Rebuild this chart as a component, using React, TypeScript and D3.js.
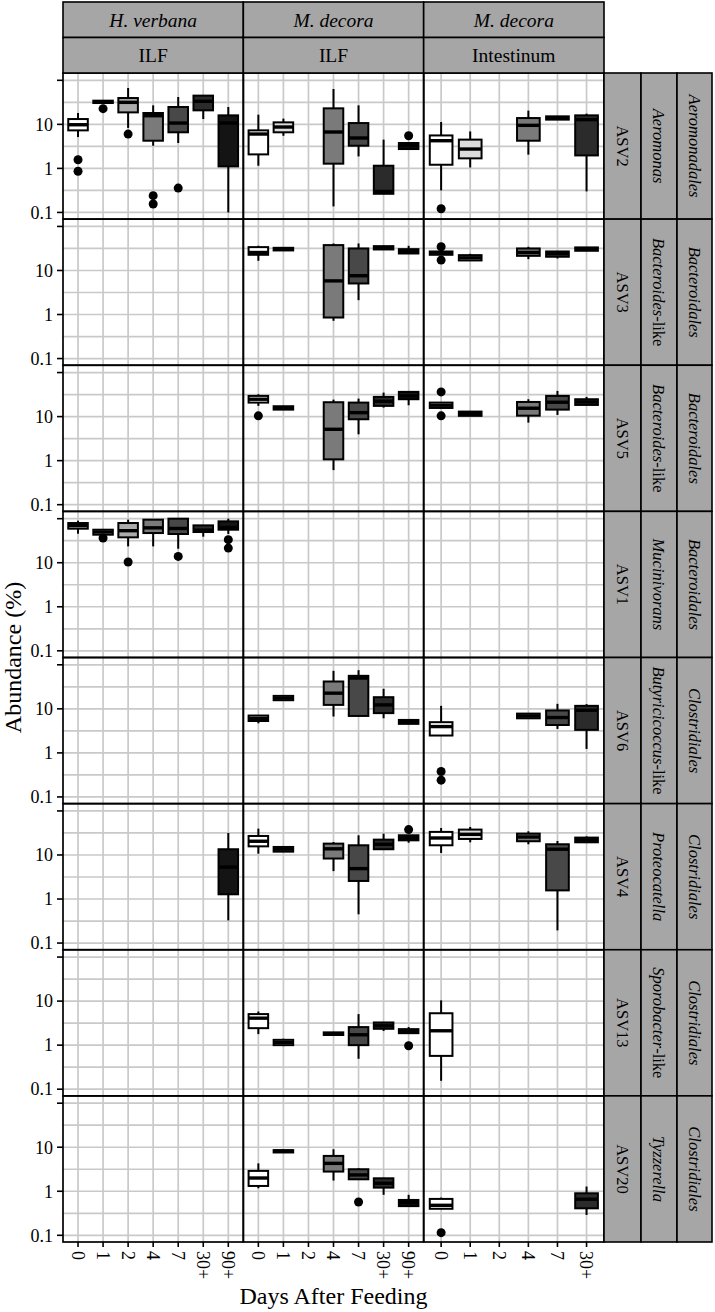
import React from "react";
import * as d3 from "d3";

// facets
const hosts = ["H. verbana", "M. decora", "M. decora"];
const tissues = ["ILF", "ILF", "Intestinum"];
const dayLevels = [
  ["0", "1", "2", "4", "7", "30+", "90+"],
  ["0", "1", "2", "4", "7", "30+", "90+"],
  ["0", "1", "2", "4", "7", "30+"],
];
const asvLabels = ["ASV2", "ASV3", "ASV5", "ASV1", "ASV6", "ASV4", "ASV13", "ASV20"];
// [italic part, plain part]
const genusLabels = [
  ["Aeromonas", ""],
  ["Bacteroides", "-like"],
  ["Bacteroides", "-like"],
  ["Mucinivorans", ""],
  ["Butyricicoccus", "-like"],
  ["Proteocatella", ""],
  ["Sporobacter", "-like"],
  ["Tyzzerella", ""],
];
const orderLabels = [
  "Aeromonadales", "Bacteroidales", "Bacteroidales", "Bacteroidales",
  "Clostridiales", "Clostridiales", "Clostridiales", "Clostridiales",
];
const dayFills: Record<string, string> = {
  "0": "#ffffff", "1": "#dcdcdc", "2": "#ababab", "4": "#7a7a7a",
  "7": "#484848", "30+": "#2b2b2b", "90+": "#141414",
};

const yTicks = [0.1, 1, 10, 100];
const yTickLabels = ["0.1", "1", "10", ""];
const yMinor = [10 ** -0.5, 10 ** 0.5, 10 ** 1.5];

// box stats: [column, day, lower whisker, q1, median, q3, upper whisker, outliers]
type Box = [number, string, number, number, number, number, number, number[]?];

const asv2: Box[] = [
  [0, "0", 5.15, 7.3, 9.8, 13.2, 18.1, [1.57, 0.86]],
  [0, "1", 30.5, 30.5, 32.2, 34.5, 34.5, [22.7]],
  [0, "2", 8.3, 18.7, 31.6, 39.6, 67, [6.0]],
  [0, "4", 3.27, 4.25, 15.7, 18.1, 27, [0.24, 0.155]],
  [0, "7", 3.77, 6.6, 10.7, 24.8, 41.8, [0.357]],
  [0, "30+", 13.2, 20.8, 33.4, 44.9, 44.9],
  [0, "90+", 0.1, 1.11, 10.7, 16, 24.8],
  [1, "0", 1.15, 2.08, 6.03, 7.3, 16.6],
  [1, "1", 5.5, 6.6, 8.7, 11.1, 13.5],
  [1, "4", 0.137, 1.28, 6.7, 23.1, 63.5],
  [1, "7", 1.87, 3.27, 4.9, 10.7, 27],
  [1, "30+", 0.265, 0.265, 0.3, 1.15, 4.5],
  [1, "90+", 2.75, 2.75, 3.27, 3.77, 3.77, [5.5]],
  [2, "0", 0.316, 1.21, 4.25, 5.6, 11.3, [0.121]],
  [2, "1", 1.05, 1.69, 2.75, 4.5, 6.9],
  [2, "4", 2.05, 4.25, 9.5, 13.9, 20.5],
  [2, "7", 12.8, 12.8, 13.9, 15.2, 15.2],
  [2, "30+", 0.3, 1.97, 12.8, 16, 17.5],
];

const asv3: Box[] = [
  [1, "0", 16.6, 22.7, 25.6, 33.9, 36.4],
  [1, "1", 28.5, 28.5, 30.5, 32.7, 32.7],
  [1, "4", 0.72, 0.855, 5.8, 37.7, 41],
  [1, "7", 2.12, 5.07, 7.6, 31.6, 41],
  [1, "30+", 30, 30, 32.7, 35.7, 35.7],
  [1, "90+", 24.3, 24.3, 27, 30.5, 36.3],
  [2, "0", 22.7, 22.7, 24.8, 27, 27, [34.5, 17.2]],
  [2, "1", 16.9, 16.9, 19.4, 22.3, 23.9],
  [2, "4", 18.1, 21.5, 25.6, 31.6, 34.5],
  [2, "7", 18.7, 20.5, 23.9, 27, 27],
  [2, "30+", 28, 28, 30.5, 33.4, 33.4],
];

const asv5: Box[] = [
  [1, "0", 17.5, 20.8, 24.8, 29.5, 32.2, [10.4]],
  [1, "1", 14.4, 14.4, 15.7, 17.2, 17.2],
  [1, "4", 0.61, 1.07, 5.15, 21.2, 24.3],
  [1, "7", 3.96, 8.7, 12.3, 20.8, 25.6],
  [1, "30+", 16, 17.5, 22.3, 28, 35.1],
  [1, "90+", 18.1, 24.8, 29.5, 36.4, 36.4],
  [2, "0", 15.7, 15.7, 18.1, 20.8, 20.8, [36.4, 10.4]],
  [2, "1", 10.4, 10.4, 11.7, 13, 13],
  [2, "4", 7.3, 10.5, 15.5, 21.5, 24.8],
  [2, "7", 10.9, 14.4, 21.2, 29.5, 38.3],
  [2, "30+", 18.4, 18.4, 21.5, 24.8, 28],
];

const asv1: Box[] = [
  [0, "0", 45.6, 59.3, 69.3, 79.7, 90],
  [0, "1", 43.3, 43.3, 49.8, 56.2, 56.2, [36.4]],
  [0, "2", 23.5, 37.7, 53.4, 79.7, 95, [10.4]],
  [0, "4", 23.5, 47.2, 62, 95, 95],
  [0, "7", 20.8, 44.9, 60, 100, 100, [13.9]],
  [0, "30+", 39, 49.8, 55, 70.5, 70.5],
  [0, "90+", 45, 56.2, 63, 87, 100, [33.4, 21.5]],
];

const asv6: Box[] = [
  [1, "0", 4.7, 5.3, 6.1, 7.05, 7.05],
  [1, "1", 15.7, 15.7, 17.5, 19.7, 19.7],
  [1, "4", 6.7, 12.3, 22.7, 41.8, 73],
  [1, "7", 6.9, 6.9, 50, 56.2, 75.6],
  [1, "30+", 6.1, 8, 12.3, 18.4, 28.5],
  [1, "90+", 4.56, 4.56, 5.15, 5.6, 5.6],
  [2, "0", 2.48, 2.48, 3.96, 4.98, 11.7, [0.377, 0.24]],
  [2, "4", 6.1, 6.1, 6.9, 7.8, 7.8],
  [2, "7", 3.5, 4.3, 6.35, 9.2, 13],
  [2, "30+", 1.23, 3.33, 9.3, 11.7, 12.8],
];

const asv4: Box[] = [
  [0, "90+", 0.327, 1.28, 5.3, 13.5, 31.6],
  [1, "0", 10.7, 15.7, 20.5, 27, 39.6],
  [1, "1", 11.9, 11.9, 13.5, 15.2, 15.2],
  [1, "4", 4.3, 8.3, 13.8, 18.1, 19.7],
  [1, "7", 0.45, 2.57, 4.9, 16.6, 28],
  [1, "30+", 13.5, 13.5, 17.5, 22.3, 30.5],
  [1, "90+", 19, 21.5, 24.3, 28, 28, [37.7]],
  [2, "0", 11.1, 16.6, 24.3, 33.4, 41],
  [2, "1", 19.4, 23.1, 29.5, 37.7, 43.3],
  [2, "4", 17.5, 20.5, 25.6, 30.5, 34.5],
  [2, "7", 0.194, 1.57, 13.5, 17.5, 20.8],
  [2, "30+", 19.4, 19.4, 21.9, 24.8, 26.5],
];

const asv13: Box[] = [
  [1, "0", 1.78, 2.43, 4.1, 5.07, 5.8],
  [1, "1", 0.95, 1.0, 1.15, 1.32, 1.4],
  [1, "4", 1.7, 1.7, 1.81, 1.95, 1.95],
  [1, "7", 0.49, 1.0, 1.72, 2.57, 5.07],
  [1, "30+", 2.1, 2.35, 2.75, 3.27, 3.27],
  [1, "90+", 1.87, 1.87, 2.08, 2.31, 2.57, [0.97]],
  [2, "0", 0.155, 0.57, 2.12, 5.3, 10.4],
];

const asv20: Box[] = [
  [1, "0", 1.17, 1.32, 2.0, 2.9, 4.3],
  [1, "1", 7.6, 7.6, 8.1, 8.6, 8.6],
  [1, "4", 1.75, 2.8, 4.3, 6.35, 9],
  [1, "7", 1.87, 1.87, 2.35, 3.16, 3.33, [0.57]],
  [1, "30+", 0.83, 1.21, 1.52, 1.97, 1.97],
  [1, "90+", 0.46, 0.46, 0.55, 0.635, 0.83],
  [2, "0", 0.4, 0.4, 0.48, 0.67, 0.72, [0.115]],
  [2, "30+", 0.29, 0.41, 0.66, 0.9, 1.28],
];

const boxesByRow = [asv2, asv3, asv5, asv1, asv6, asv4, asv13, asv20];

const W = 715;
const H = 1312;
const left = 63;
const right = 604;
const top = 73;
const bottom = 1242;
const colW = (right - left) / 3;
const rowH = (bottom - top) / 8;
const font = "'Liberation Serif', 'Times New Roman', serif";

export default function App() {
  const xScales = dayLevels.map((lv, c) =>
    d3.scalePoint<string>().domain(lv).range([left + c * colW, left + (c + 1) * colW]).padding(0.6)
  );
  const yScales = asvLabels.map((_, r) =>
    d3.scaleLog().domain([10 ** -1.152, 10 ** 2.166]).range([top + (r + 1) * rowH, top + r * rowH])
  );

  return (
    <div style={{ position: "absolute", left: 0, top: 0 }}>
      <svg width={W} height={H} style={{ display: "block", background: "white" }} fontFamily={font}>
        {/* panels: grid */}
        {asvLabels.map((_, r) =>
          dayLevels.map((lv, c) => {
            const x = xScales[c];
            const y = yScales[r];
            const x0 = left + c * colW;
            return (
              <g key={`g${r}-${c}`} stroke="#c9c9c9" strokeWidth={1.7}>
                {yTicks.concat(yMinor).map((t) => (
                  <line key={t} x1={x0} x2={x0 + colW} y1={y(t)} y2={y(t)} />
                ))}
                {lv.map((d) => (
                  <line key={d} x1={x(d)} x2={x(d)} y1={top + r * rowH} y2={top + (r + 1) * rowH} />
                ))}
              </g>
            );
          })
        )}

        {/* boxes */}
        {boxesByRow.map((boxes, r) =>
          boxes.map(([c, day, lo, q1, med, q3, hi, out], i) => {
            const x = xScales[c];
            const y = yScales[r];
            const cx = x(day) as number;
            const bw = x.step() * 0.78;
            return (
              <g key={`b${r}-${i}`} stroke="#000">
                <line x1={cx} x2={cx} y1={y(hi)} y2={y(q3)} strokeWidth={2} />
                <line x1={cx} x2={cx} y1={y(q1)} y2={y(lo)} strokeWidth={2} />
                <rect
                  x={cx - bw / 2}
                  width={bw}
                  y={y(q3)}
                  height={Math.max(0, y(q1) - y(q3))}
                  fill={dayFills[day]}
                  strokeWidth={2}
                />
                <line x1={cx - bw / 2} x2={cx + bw / 2} y1={y(med)} y2={y(med)} strokeWidth={3.4} />
                {(out || []).map((o, k) => (
                  <circle key={k} cx={cx} cy={y(o)} r={4.5} fill="#000" stroke="none" />
                ))}
              </g>
            );
          })
        )}

        {/* panel borders */}
        {asvLabels.map((_, r) =>
          dayLevels.map((_lv, c) => (
            <rect
              key={`p${r}-${c}`}
              x={left + c * colW}
              y={top + r * rowH}
              width={colW}
              height={rowH}
              fill="none"
              stroke="#000"
              strokeWidth={1.7}
            />
          ))
        )}

        {/* y axis */}
        {yScales.map((y, r) => (
          <g key={`y${r}`}>
            {yTicks.map((t, k) => (
              <g key={t}>
                <line x1={57} x2={left} y1={y(t)} y2={y(t)} stroke="#000" strokeWidth={1.6} />
                <text x={53} y={y(t)} dy="0.35em" textAnchor="end" fontSize={18} fill="#000">
                  {yTickLabels[k]}
                </text>
              </g>
            ))}
          </g>
        ))}

        {/* x axis */}
        {xScales.map((x, c) =>
          x.domain().map((d) => (
            <g key={`x${c}-${d}`}>
              <line x1={x(d)} x2={x(d)} y1={bottom} y2={bottom + 5} stroke="#000" strokeWidth={1.6} />
              <text
                transform={`translate(${x(d)},${bottom + 9}) rotate(90)`}
                dy="0.35em"
                textAnchor="start"
                fontSize={18}
                fill="#000"
              >
                {d}
              </text>
            </g>
          ))
        )}

        {/* top strips */}
        {hosts.map((h, c) => (
          <g key={`s${c}`}>
            <rect x={left + c * colW} y={2} width={colW} height={35.5} fill="#a6a6a6" stroke="#000" strokeWidth={1.6} />
            <text x={left + (c + 0.5) * colW} y={19.75} dy="0.35em" textAnchor="middle" fontSize={19.5} fontStyle="italic">
              {h}
            </text>
            <rect x={left + c * colW} y={37.5} width={colW} height={35.5} fill="#a6a6a6" stroke="#000" strokeWidth={1.6} />
            <text x={left + (c + 0.5) * colW} y={55.25} dy="0.35em" textAnchor="middle" fontSize={19.5}>
              {tissues[c]}
            </text>
          </g>
        ))}

        {/* right strips */}
        {asvLabels.map((a, r) => {
          const y0 = top + r * rowH;
          const cy = y0 + rowH / 2;
          const cols = [
            [604, 641],
            [641, 677],
            [677, 712],
          ];
          return (
            <g key={`r${r}`}>
              {cols.map(([a0, a1], k) => (
                <rect key={k} x={a0} y={y0} width={a1 - a0} height={rowH} fill="#a6a6a6" stroke="#000" strokeWidth={1.6} />
              ))}
              <text transform={`translate(${(604 + 641) / 2},${cy}) rotate(90)`} dy="0.35em" textAnchor="middle" fontSize={16.5}>
                {a}
              </text>
              <text transform={`translate(${(641 + 677) / 2},${cy}) rotate(90)`} dy="0.35em" textAnchor="middle" fontSize={16.5}>
                <tspan fontStyle="italic">{genusLabels[r][0]}</tspan>
                {genusLabels[r][1] && <tspan>{genusLabels[r][1]}</tspan>}
              </text>
              <text transform={`translate(${(677 + 712) / 2},${cy}) rotate(90)`} dy="0.35em" textAnchor="middle" fontSize={16.5} fontStyle="italic">
                {orderLabels[r]}
              </text>
            </g>
          );
        })}

        {/* titles */}
        <text x={(left + right) / 2} y={1304} textAnchor="middle" fontSize={24}>
          Days After Feeding
        </text>
        <text transform={`translate(21,${(top + bottom) / 2}) rotate(-90)`} textAnchor="middle" fontSize={24}>
          Abundance (%)
        </text>
      </svg>
    </div>
  );
}
